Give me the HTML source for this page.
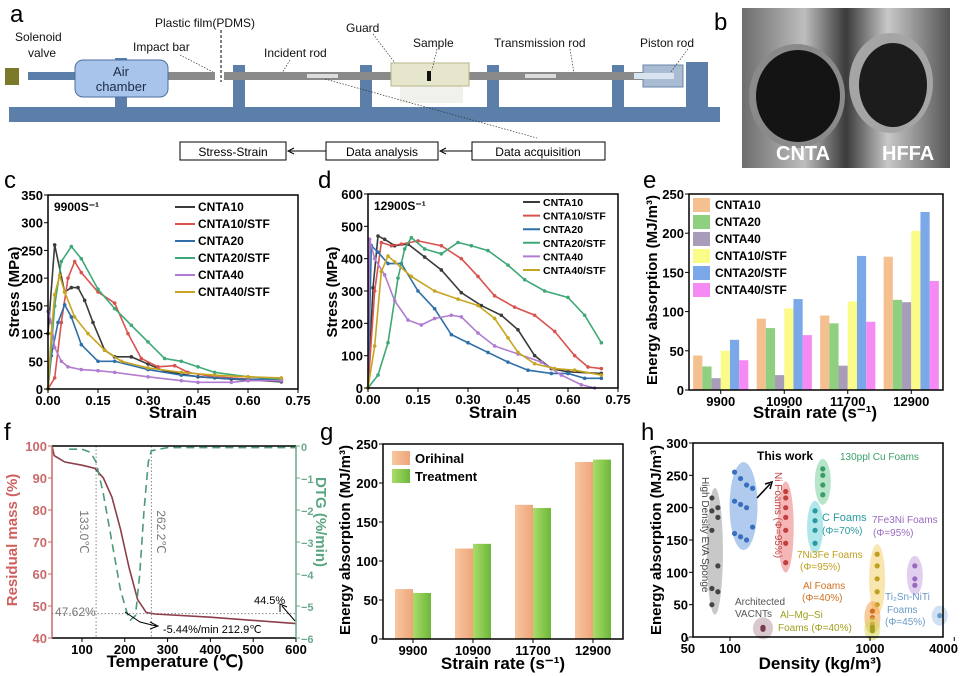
<!DOCTYPE html>
<html><head><meta charset="utf-8"><style>
html,body{margin:0;padding:0;background:#fff}
svg{display:block;font-family:"Liberation Sans",sans-serif}
</style></head><body>
<svg id="fig" width="960" height="676" viewBox="0 0 960 676" xmlns="http://www.w3.org/2000/svg">
<defs>
<linearGradient id="photoBg" x1="0" x2="1"><stop offset="0" stop-color="#6d6d6d"/><stop offset="0.3" stop-color="#bdbdbd"/><stop offset="0.5" stop-color="#3a3a3a"/><stop offset="0.7" stop-color="#c8c8c8"/><stop offset="1" stop-color="#555"/></linearGradient>
<linearGradient id="gOr" x1="0" x2="1"><stop offset="0" stop-color="#f7c7a0"/><stop offset="1" stop-color="#eea57a"/></linearGradient>
<linearGradient id="gGr" x1="0" x2="1"><stop offset="0" stop-color="#a9dc6a"/><stop offset="1" stop-color="#6db83a"/></linearGradient>
</defs>
<g>
<text x="10" y="22" font-size="24">a</text>
<rect x="9" y="107" width="711" height="15" fill="#5b7fa8"/>
<rect x="115" y="58" width="12" height="50" fill="#5b7fa8"/>
<rect x="233" y="65" width="12" height="43" fill="#5b7fa8"/>
<rect x="360" y="65" width="12" height="43" fill="#5b7fa8"/>
<rect x="487" y="65" width="12" height="43" fill="#5b7fa8"/>
<rect x="612" y="65" width="12" height="43" fill="#5b7fa8"/>
<rect x="28" y="72" width="50" height="8" fill="#5b7fa8"/>
<rect x="5" y="68" width="14" height="17" fill="#7a7a2a"/>
<rect x="160" y="72" width="55" height="8" fill="#8a8a8a"/>
<line x1="221" y1="30" x2="221" y2="82" stroke="#000" stroke-dasharray="3,2"/>
<rect x="224" y="72" width="420" height="8" fill="#8a8a8a"/>
<rect x="75" y="60" width="93" height="37" rx="8" fill="#a9c4ea" stroke="#4a6fa0"/>
<text x="121" y="76" font-size="13" text-anchor="middle" fill="#1a2a4a">Air</text>
<text x="121" y="91" font-size="13" text-anchor="middle" fill="#1a2a4a">chamber</text>
<rect x="307" y="74" width="31" height="4" fill="#ddd"/>
<rect x="525" y="74" width="31" height="4" fill="#ddd"/>
<rect x="400" y="86" width="63" height="17" fill="#f1f1ec"/>
<rect x="391" y="63" width="78" height="23" fill="#e6e6cc" stroke="#b5b58a"/>
<rect x="427" y="71" width="4" height="10" fill="#111"/>
<rect x="643" y="65" width="40" height="22" fill="#a9bcd4" stroke="#6a86a8"/>
<rect x="634" y="73" width="40" height="6" fill="#d8e4f0"/>
<rect x="686" y="62" width="22" height="46" fill="#5b7fa8"/>
<g font-size="12" fill="#111">
<text x="15" y="41">Solenoid</text>
<text x="28" y="57">valve</text>
<text x="133" y="51">Impact bar</text>
<text x="155" y="27">Plastic film(PDMS)</text>
<text x="264" y="57">Incident rod</text>
<text x="346" y="32">Guard</text>
<text x="413" y="47">Sample</text>
<text x="494" y="47">Transmission rod</text>
<text x="640" y="47">Piston rod</text>
</g>
<g stroke="#333" stroke-width="0.7" stroke-dasharray="1.5,1.5" fill="none">
<line x1="180" y1="55" x2="213" y2="72"/><line x1="290" y1="60" x2="282" y2="73"/><line x1="373" y1="34" x2="395" y2="63"/><line x1="437" y1="49" x2="432" y2="70"/><line x1="570" y1="49" x2="574" y2="73"/><line x1="688" y1="49" x2="670" y2="73"/><line x1="325" y1="79" x2="537" y2="138"/>
</g>
<g font-size="12">
<rect x="180" y="142" width="106" height="18" fill="#fff" stroke="#000"/>
<text x="233" y="156" text-anchor="middle">Stress-Strain</text>
<rect x="326" y="142" width="112" height="18" fill="#fff" stroke="#000"/>
<text x="382" y="156" text-anchor="middle">Data analysis</text>
<rect x="472" y="142" width="133" height="18" fill="#fff" stroke="#000"/>
<text x="538" y="156" text-anchor="middle">Data acquisition</text>
<path d="M326 151H290M294 148L288 151L294 154M472 151H442M446 148L440 151L446 154" stroke="#000" fill="none"/>
</g>
</g>
<g>
<text x="714" y="30" font-size="24">b</text>
<rect x="742" y="8" width="208" height="160" fill="url(#photoBg)"/>
<ellipse cx="797" cy="96" rx="48" ry="52" fill="#8a8a8a"/>
<ellipse cx="798" cy="96" rx="42" ry="46" fill="#141414"/>
<ellipse cx="891" cy="83" rx="42" ry="50" fill="#a5a5a5"/>
<ellipse cx="893" cy="85" rx="34" ry="42" fill="#1c1c1c"/>
<text x="776" y="160" font-size="20" font-weight="bold" fill="#fff">CNTA</text>
<text x="882" y="160" font-size="20" font-weight="bold" fill="#fff">HFFA</text>
</g>
</svg>
<script>
const NS='http://www.w3.org/2000/svg';
const svg=document.getElementById('fig');
function mk(tag,attrs,parent){const e=document.createElementNS(NS,tag);for(const k in attrs)e.setAttribute(k,attrs[k]);(parent||svg).appendChild(e);return e;}
function tx(x,y,s,attrs,parent){const e=mk('text',Object.assign({x:x,y:y},attrs||{}),parent);e.textContent=s;return e;}
function lin(d0,d1,r0,r1){return v=>r0+(v-d0)/(d1-d0)*(r1-r0);}
function grp(name){const g=mk('g',{});return g;}
function frame(g,x0,y0,x1,y1){const r=mk('rect',{x:x0,y:y0,width:x1-x0,height:y1-y0,fill:'none',stroke:'#000','stroke-width':1.5},g);}
function xticks(g,vals,labels,xs,y,col,lastEnd){vals.forEach((v,i)=>{const l=mk('line',{x1:xs(v),x2:xs(v),y1:y,y2:y+4,stroke:col||'#000'},g);const anc=(lastEnd&&i===vals.length-1)?'end':'middle';const t=tx(lastEnd&&i===vals.length-1?958:xs(v),y+16,labels[i],{'font-size':13,'font-weight':'bold','text-anchor':anc},g);});}
function yticks(g,vals,labels,ys,x,col,right,fs){vals.forEach((v,i)=>{const l=mk('line',{x1:x,x2:right?x+4:x-4,y1:ys(v),y2:ys(v),stroke:col||'#000'},g);const t=tx(right?x+5:x-5,ys(v)+5,labels[i],{'font-size':fs||13,'font-weight':'bold','text-anchor':right?'start':'end',fill:col||'#000'},g);});}
function ytitle(g,x,y,s,col,rot){const t=tx(x,y,s,{'font-size':15,'font-weight':'bold','text-anchor':'middle',fill:col||'#000',transform:`rotate(${rot||-90} ${x} ${y})`},g);return t;}
function xtitle(g,x,y,s){const t=tx(x,y,s,{'font-size':17,'font-weight':'bold','text-anchor':'middle'},g);return t;}
function plabel(x,y,s){const t=tx(x,y,s,{'font-size':24});}

const lineNames=['CNTA10','CNTA10/STF','CNTA20','CNTA20/STF','CNTA40','CNTA40/STF'];
const lineColors=['#3b3b3b','#d9534f','#2f6fa8','#3fa877','#b07cd0','#c8a520'];
const c_CNTA10=[[0,100],[0.02,260],[0.05,175],[0.07,183],[0.09,183],[0.11,160],[0.135,120],[0.17,70],[0.2,58],[0.25,58],[0.3,45],[0.35,32],[0.45,22],[0.55,18],[0.7,13]];
const c_CNTA10STF=[[0,0],[0.02,20],[0.04,120],[0.06,200],[0.08,230],[0.1,210],[0.15,175],[0.2,155],[0.24,100],[0.28,55],[0.33,40],[0.38,42],[0.42,30],[0.5,22],[0.6,18],[0.7,16]];
const c_CNTA20=[[0,0],[0.01,60],[0.03,120],[0.05,152],[0.07,130],[0.1,80],[0.15,50],[0.2,50],[0.3,35],[0.4,25],[0.5,20],[0.6,17],[0.7,18]];
const c_CNTA20STF=[[0,0],[0.02,150],[0.04,230],[0.07,257],[0.1,235],[0.15,180],[0.2,145],[0.25,115],[0.3,85],[0.35,55],[0.4,50],[0.45,40],[0.5,30],[0.6,22],[0.7,18]];
const c_CNTA40=[[0,140],[0.01,120],[0.02,75],[0.04,50],[0.06,40],[0.1,35],[0.15,33],[0.2,30],[0.3,22],[0.4,15],[0.45,12],[0.55,12],[0.6,15],[0.7,15]];
const c_CNTA40STF=[[0,0],[0.01,100],[0.02,170],[0.035,205],[0.05,175],[0.08,130],[0.12,100],[0.17,70],[0.22,50],[0.3,38],[0.4,30],[0.5,25],[0.6,22],[0.7,20]];
const d_CNTA10=[[0,0],[0.015,310],[0.03,470],[0.05,460],[0.08,440],[0.12,445],[0.17,405],[0.22,365],[0.28,295],[0.34,255],[0.4,225],[0.45,180],[0.5,100],[0.55,60],[0.6,50],[0.7,45]];
const d_CNTA10STF=[[0,0],[0.02,300],[0.04,450],[0.07,440],[0.1,445],[0.15,455],[0.22,440],[0.28,400],[0.33,345],[0.38,285],[0.44,250],[0.5,225],[0.56,175],[0.62,100],[0.66,65],[0.7,60]];
const d_CNTA20=[[0,0],[0.01,440],[0.03,420],[0.06,385],[0.1,385],[0.15,300],[0.2,245],[0.25,165],[0.3,140],[0.36,110],[0.42,80],[0.48,55],[0.55,45],[0.6,45],[0.65,30],[0.7,30]];
const d_CNTA20STF=[[0,0],[0.03,40],[0.06,140],[0.09,340],[0.11,430],[0.13,465],[0.17,430],[0.22,415],[0.27,450],[0.31,440],[0.36,425],[0.42,380],[0.47,335],[0.53,300],[0.6,280],[0.65,225],[0.7,140]];
const d_CNTA40=[[0,0],[0.005,460],[0.02,400],[0.05,350],[0.08,270],[0.12,210],[0.16,195],[0.2,215],[0.25,225],[0.28,220],[0.33,170],[0.38,130],[0.45,105],[0.52,80],[0.58,40],[0.64,10],[0.68,0]];
const d_CNTA40STF=[[0,0],[0.02,130],[0.04,360],[0.06,408],[0.08,390],[0.13,345],[0.2,300],[0.27,275],[0.33,255],[0.38,215],[0.42,155],[0.45,110],[0.5,75],[0.56,60],[0.62,55],[0.7,40]];
const strainTicks=[0,0.15,0.3,0.45,0.6,0.75];
const strainTickLabels=['0.00','0.15','0.30','0.45','0.60','0.75'];
const cStressTicks=[0,50,100,150,200,250,300,350];
const dStressTicks=[0,100,200,300,400,500,600];

function stressPanel(name,series,x0,x1,y0,y1,ymax,yt,rateLabel,leg){
  const g=grp(name);
  const xs=lin(0,0.75,x0,x1),ys=lin(0,ymax,y0,y1);
  series.forEach((s,i)=>{
    const p=mk('polyline',{points:s.map(d=>xs(d[0])+','+ys(d[1])).join(' '),fill:'none',stroke:lineColors[i],'stroke-width':1.6},g);
    
    
    s.forEach(d=>{const c=mk('circle',{cx:xs(d[0]),cy:ys(d[1]),r:1.8,fill:lineColors[i]},g);
      
      });
  });
  frame(g,x0,y1,x1,y0);
  xticks(g,strainTicks,strainTickLabels,xs,y0);
  yticks(g,yt,yt.map(String),ys,x0);
  const r=tx(x0+6,y1+16,rateLabel,{'font-size':12,'font-weight':'bold'},g);
  
  
  lineNames.forEach((n,i)=>{const yy=leg.y+i*leg.dy;
    const l=mk('line',{x1:leg.x,x2:leg.x+leg.w,y1:yy,y2:yy,stroke:lineColors[i],'stroke-width':2},g);
    
    
    const t=tx(leg.x+leg.w+3,yy+4,n,{'font-size':leg.fs,'font-weight':'bold'},g);
    
    });
  return g;
}
const gc=stressPanel('panel-c-chart',[c_CNTA10,c_CNTA10STF,c_CNTA20,c_CNTA20STF,c_CNTA40,c_CNTA40STF],48,298,389,195,350,cStressTicks,'9900S⁻¹',{x:175,y:207,dy:17,w:20,fs:12});
ytitle(gc,19,292,'Stress (MPa)');xtitle(gc,173,418,'Strain');
plabel(4,188,'c');
const gd=stressPanel('panel-d-chart',[d_CNTA10,d_CNTA10STF,d_CNTA20,d_CNTA20STF,d_CNTA40,d_CNTA40STF],368,618,388,194,600,dStressTicks,'12900S⁻¹',{x:523,y:202,dy:13.6,w:17,fs:10.5});
ytitle(gd,337,292,'Stress (MPa)');xtitle(gd,493,418,'Strain');
plabel(318,188,'d');

const eCategories=['9900','10900','11700','12900'];
const eSeriesNames=['CNTA10','CNTA20','CNTA40','CNTA10/STF','CNTA20/STF','CNTA40/STF'];
const eCNTA10=[44,91,95,170];
const eCNTA20=[30,79,85,115];
const eCNTA40=[15,19,31,112];
const eCNTA10STF=[50,104,113,203];
const eCNTA20STF=[64,116,171,227];
const eCNTA40STF=[38,70,87,139];
const eTicks=[0,50,100,150,200,250];
(function(){
  const g=grp('panel-e-chart');
  const cols=['#f5c08f','#8fcf80','#a99cb9','#fbfb8a','#7aa8e8','#f58af5'];
  const vals=[eCNTA10,eCNTA20,eCNTA40,eCNTA10STF,eCNTA20STF,eCNTA40STF];
  const x0=689,x1=943,y0=390,y1=194;
  const ys=lin(0,250,y0,y1);
  const xc=i=>x0+(x1-x0)*(i+0.5)/eCategories.length;
  const bw=9.2;
  vals.forEach((arr,s)=>arr.forEach((v,i)=>{
    const r=mk('rect',{x:xc(i)+(s-3)*bw,y:ys(v),width:bw,height:y0-ys(v),fill:cols[s]},g);
    
    
  }));
  frame(g,x0,y1,x1,y0);
  xticks(g,[0,1,2,3],eCategories,xc,y0);
  yticks(g,eTicks,eTicks.map(String),ys,x0);
  eSeriesNames.forEach((n,i)=>{const yy=198+i*17;
    const r=mk('rect',{x:693,y:yy,width:17,height:14,fill:cols[i]},g);
    
    
    const t=tx(715,yy+11,n,{'font-size':12,'font-weight':'bold'},g);
    
    });
  ytitle(g,657,290,'Energy absorption (MJ/m³)');
  xtitle(g,815,418,'Strain rate (s⁻¹)');
})();
plabel(643,188,'e');

const fTempMass=[[30,100],[35,97],[60,95],[100,94],[130,93],[150,90],[170,84],[190,74],[210,62],[230,52],[250,48],[270,47.5],[400,46.5],[500,45.5],[600,44.5]];
const fTempDTG=[[70,-0.1],[100,-0.1],[120,-0.2],[133,-0.5],[150,-1.5],[170,-3],[190,-4.5],[205,-5.2],[213,-5.44],[225,-5.3],[235,-4],[245,-2],[255,-0.5],[262,-0.15],[300,-0.05],[600,-0.05]];
const fTempTicks=[100,200,300,400,500,600];
const fMassTicks=[40,50,60,70,80,90,100];
const fDtgTicks=[-6,-5,-4,-3,-2,-1,0];
(function(){
  const g=grp('panel-f-chart');
  const x0=52,x1=296,y0=638,y1=446;
  const xs=lin(30,600,x0,x1),ys=lin(40,100,y0,y1),yr=lin(-6,0,y0,y1);
  const dots={stroke:'#888','stroke-width':1,'stroke-dasharray':'1.5,2'};
  [[xs(133),y1,xs(133),y0],[xs(262.2),y1,xs(262.2),y0],[x0,ys(47.62),x1,ys(47.62)]].forEach(l=>{const e=mk('line',Object.assign({x1:l[0],y1:l[1],x2:l[2],y2:l[3]},dots),g);
    
    });
  const m=mk('polyline',{points:fTempMass.map(d=>xs(d[0])+','+ys(d[1])).join(' '),fill:'none',stroke:'#8c3f4a','stroke-width':1.6},g);
  
  
  const dd=mk('polyline',{points:fTempDTG.map(d=>xs(d[0])+','+yr(d[1])).join(' '),fill:'none',stroke:'#4d9a78','stroke-width':1.6,'stroke-dasharray':'8,5'},g);
  
  
  mk('line',{x1:x0,y1:y0,x2:x1,y2:y0,stroke:'#000','stroke-width':1.5},g);
  mk('line',{x1:x0,y1:y1,x2:x1,y2:y1,stroke:'#000','stroke-width':1.5},g);
  const la=mk('line',{x1:x0,y1:y0,x2:x0,y2:y1,stroke:'#c96a6a','stroke-width':1.5},g);
  
  
  const ra=mk('line',{x1:x1,y1:y0,x2:x1,y2:y1,stroke:'#6aa98a','stroke-width':1.5},g);
  
  
  xticks(g,fTempTicks,fTempTicks.map(String),xs,y0);
  yticks(g,fMassTicks,fMassTicks.map(String),ys,x0,'#c96a6a');
  yticks(g,fDtgTicks,fDtgTicks.map(v=>v===0?'0':'−'+(-v)),yr,x1,'#6aa98a',true,11);
  const an=[[80,532,'133.0℃',90],[157,532,'262.2℃',90]];
  an.forEach(a=>{const t=tx(a[0],a[1],a[2],{'font-size':12,fill:'#777','text-anchor':'middle',transform:`rotate(${a[3]} ${a[0]} ${a[1]})`},g);
    
    });
  const t1=tx(55,616,'47.62%',{'font-size':12,fill:'#777'},g);
  
  
  const t2=tx(254,604,'44.5%',{'font-size':11},g);
  
  
  const t3=tx(163,633,'-5.44%/min  212.9℃',{'font-size':11},g);
  
  
  mk('path',{d:'M125 612L140 622L156 626M150 622L158 626L150 629M295 621L282 606M280 612L280 604L287 607',stroke:'#000',fill:'none','stroke-width':1},g);
  ytitle(g,17,540,'Residual mass (%)','#d06060');
  ytitle(g,316,522,'DTG (%/min)','#5aa582',90);
  xtitle(g,175,667,'Temperature (℃)');
})();
plabel(4,440,'f');

const gCategories=['9900','10900','11700','12900'];
const gOriginal=[64,116,172,227];
const gTreatment=[59,122,168,230];
const gTicks=[0,50,100,150,200,250];
(function(){
  const g=grp('panel-g-chart');
  const x0=383,x1=623,y0=639,y1=444;
  const ys=lin(0,250,y0,y1);
  const xc=i=>x0+(x1-x0)*(i+0.5)/gCategories.length;
  const bw=18;
  gOriginal.forEach((v,i)=>{const r=mk('rect',{x:xc(i)-bw,y:ys(v),width:bw,height:y0-ys(v),fill:'url(#gOr)'},g);
    
    });
  gTreatment.forEach((v,i)=>{const r=mk('rect',{x:xc(i),y:ys(v),width:bw,height:y0-ys(v),fill:'url(#gGr)'},g);
    
    });
  frame(g,x0,y1,x1,y0);
  xticks(g,[0,1,2,3],gCategories,xc,y0);
  yticks(g,gTicks,gTicks.map(String),ys,x0);
  [['Orihinal','url(#gOr)'],['Treatment','url(#gGr)']].forEach((l,i)=>{
    const r=mk('rect',{x:392,y:451+i*18,width:18,height:14,fill:l[1]},g);
    
    
    const t=tx(415,463+i*18,l[0],{'font-size':13,'font-weight':'bold'},g);
    
    });
  ytitle(g,350,540,'Energy absorption (MJ/m³)');
  xtitle(g,503,669,'Strain rate (s⁻¹)');
})();
plabel(320,440,'g');

const hGroupNames=['EVA Sponge','This work','Ni Foams','Cu Foams','C Foams','7Ni3Fe Foams','Al Foams','Al-Mg-Si Foams','7Fe3Ni Foams','Ti2Sn-NiTi Foams','VACNTs'];
const hDensity=[78,125,250,460,405,1125,1040,1040,2090,3150,172];
const hValues=[[215,200,195,185,165,110,75,70,50],[255,245,235,230,210,205,200,170,160,155,150],[225,215,200,185,165,145,115],[260,250,235,220],[195,180,165,145],[128,110,90,70,50],[40,30,20],[15,10],[110,90,80],[33],[15,12,14]];
const hXTicks=[50,100,1000,4000];
const hYTicks=[0,50,100,150,200,250,300];
(function(){
  const g=grp('panel-h-chart');
  const x0=693,x1=943,y0=637,y1=443;
  const xs=v=>730+Math.log10(v/100)*140, ys=lin(0,300,y0,y1);
  const fills=['#9a9a9a','#6fa0e0','#ec7a7a','#7ccf9c','#6fd4d8','#f3d070','#f3a050','#d8d860','#c8a8e0','#a8c8e8','#b89aa8'];
  const pcol=['#444','#3a6fc0','#c04040','#3a9a6a','#2a9aa0','#c0a020','#d07020','#a0a020','#9a6ac0','#6a9ac8','#7a3a4a'];
  hValues.forEach((vals,i)=>{
    const mx=Math.max(...vals),mn=Math.min(...vals);
    const e=mk('ellipse',{cx:xs(hDensity[i]),cy:(ys(mx)+ys(mn))/2,rx:i===1?14:(i===10?10:8),ry:Math.max(8,(ys(mn)-ys(mx))/2+10),fill:fills[i],opacity:0.55},g);
    
    
    vals.forEach((v,k)=>{const off=(i===1)?((k%4)-1.5)*6:(i===0?(k%2?3:-3):0);
      const p=mk('circle',{cx:xs(hDensity[i])+off,cy:ys(v),r:2.6,fill:pcol[i]},g);
      
      });
  });
  frame(g,x0,y1,x1,y0);
  xticks(g,hXTicks,hXTicks.map(String),xs,y0,null,true);
  yticks(g,hYTicks,hYTicks.map(String),ys,x0);
  const labs=[[757,460,'This work','#000',12,'bold'],[840,460,'130ppl Cu Foams','#3aa06a',10],[822,521,'C Foams','#2a9aa0',11],[822,534,'(Φ=70%)','#2a9aa0',10],[872,523,'7Fe3Ni Foams','#9a6ac0',10],[873,536,'(Φ=95%)','#9a6ac0',10],[797,558,'7Ni3Fe Foams','#c0a020',10],[800,570,'(Φ=95%)','#c0a020',10],[803,589,'Al Foams','#d07020',10],[802,601,'(Φ=40%)','#d07020',10],[885,600,'Ti₂Sn-NiTi','#6a9ac8',10],[887,613,'Foams','#6a9ac8',10],[885,625,'(Φ=45%)','#6a9ac8',10],[735,605,'Architected','#555',10],[735,617,'VACNTs','#555',10],[780,618,'Al–Mg–Si','#a0a020',10],[778,631,'Foams (Φ=40%)','#a0a020',10]];
  labs.forEach(l=>{const t=tx(l[0],l[1],l[2],{'font-size':l[4],fill:l[3],'font-weight':l[5]||'normal'},g);
    
    });
  [[702,477,'High Density EVA Sponge','#444'],[775,472,'Ni Foams (Φ=95%)','#c04040']].forEach(l=>{const t=tx(l[0],l[1],l[2],{'font-size':10,fill:l[3],transform:`rotate(90 ${l[0]} ${l[1]})`},g);
    
    });
  mk('path',{d:'M757 498L770 484M765 484L772 482L770 489',stroke:'#000','stroke-width':1.5,fill:'none'},g);
  ytitle(g,661,540,'Energy absorption (MJ/m³)');
  xtitle(g,820,669,'Density (kg/m³)');
})();
plabel(641,440,'h');
</script>
</body></html>
